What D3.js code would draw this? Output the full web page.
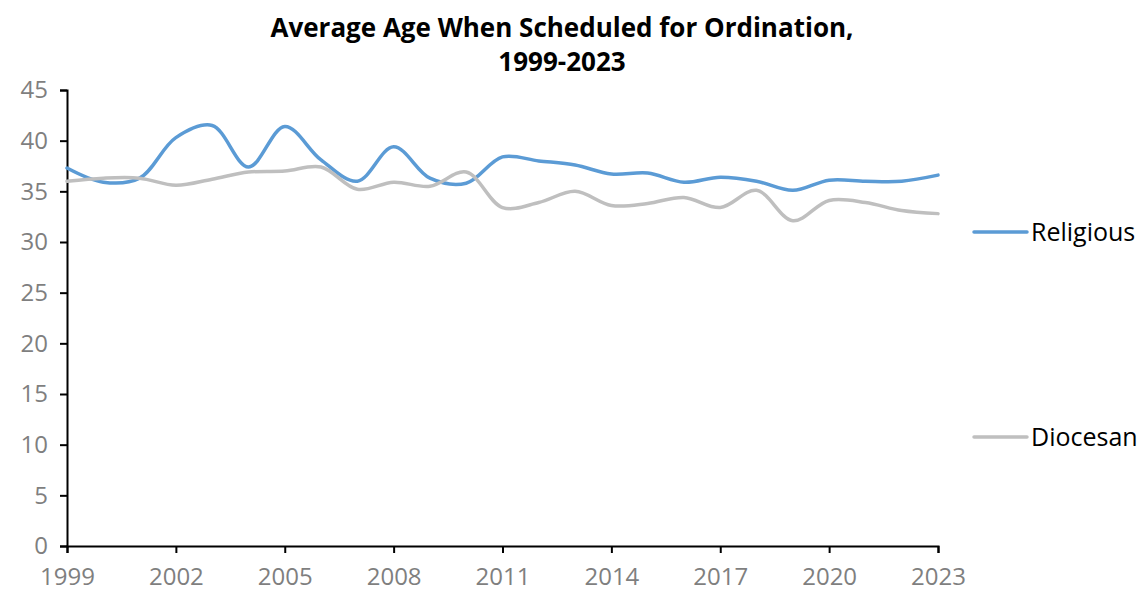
<!DOCTYPE html>
<html>
<head>
<meta charset="utf-8">
<script src="https://cdn.jsdelivr.net/npm/d3@7"></script>
<style>
  body { margin: 0; background: #fff; }
  svg { font-family: "Open Sans", "Noto Sans", sans-serif; }
</style>
</head>
<body>
<svg id="chart"></svg>
<script>
// Data
const years = d3.range(1999, 2024);
const religious = [37.3, 35.9, 36.3, 40.3, 41.5, 37.4, 41.4, 38.1, 36.0, 39.4, 36.3, 35.8, 38.4,
                   38.0, 37.6, 36.7, 36.8, 35.9, 36.4, 36.0, 35.1, 36.1, 36.0, 36.0, 36.6];
const diocesan  = [36.0, 36.3, 36.3, 35.6, 36.2, 36.9, 37.0, 37.4, 35.2, 35.9, 35.5, 36.9, 33.4,
                   33.9, 35.0, 33.6, 33.8, 34.4, 33.4, 35.1, 32.1, 34.1, 33.9, 33.1, 32.8];
const xTicks = [1999, 2002, 2005, 2008, 2011, 2014, 2017, 2020, 2023];
const yTicks = d3.range(0, 50, 5);

const width = 1143;
const height = 599;
const margin = { left: 67, right: 205, top: 90, bottom: 53 };

const svg = d3.select("#chart")
    .attr("width", width)
    .attr("height", height);

const x = d3.scaleLinear()
    .domain([1999, 2023])
    .range([margin.left, width - margin.right]);

const y = d3.scaleLinear()
    .domain([0, 45])
    .range([height - margin.bottom, margin.top]);

// Title
svg.append("text")
    .attr("x", 562).attr("y", 37)
    .attr("text-anchor", "middle")
    .attr("font-size", 26).attr("font-weight", "bold")
    .text("Average Age When Scheduled for Ordination,");
svg.append("text")
    .attr("x", 562).attr("y", 71)
    .attr("text-anchor", "middle")
    .attr("font-size", 26).attr("font-weight", "bold")
    .text("1999-2023");

// Y axis
const yAxis = svg.append("g")
    .attr("transform", `translate(${margin.left},0)`)
    .call(d3.axisLeft(y).tickValues(yTicks).tickSize(7).tickPadding(12));
yAxis.selectAll("text").attr("font-size", 24).attr("fill", "#7f7f7f")
    .attr("font-family", "Open Sans, sans-serif");

// X axis
const xAxis = svg.append("g")
    .attr("transform", `translate(0,${height - margin.bottom})`)
    .call(d3.axisBottom(x).tickValues(xTicks).tickFormat(d3.format("d")).tickSize(7).tickPadding(15));
xAxis.selectAll("text").attr("font-size", 24).attr("fill", "#7f7f7f")
    .attr("font-family", "Open Sans, sans-serif");

svg.selectAll(".domain").attr("stroke", "#000").attr("stroke-width", 2);
svg.selectAll(".tick line").attr("stroke", "#000").attr("stroke-width", 2);

// Lines
const series = [
    { name: "Religious", values: religious, color: "#5b9bd5", ly: 232 },
    { name: "Diocesan", values: diocesan, color: "#bfbfbf", ly: 437 }
];

const line = d3.line()
    .x((d, i) => x(years[i]))
    .y(d => y(d))
    .curve(d3.curveCatmullRom.alpha(0.5));

series.forEach(s => {
    svg.append("path")
        .datum(s.values)
        .attr("fill", "none")
        .attr("stroke", s.color)
        .attr("stroke-width", 3.5)
        .attr("stroke-linecap", "round")
        .attr("d", line);

    // Legend
    svg.append("line")
        .attr("x1", 974).attr("x2", 1027)
        .attr("y1", s.ly).attr("y2", s.ly)
        .attr("stroke", s.color)
        .attr("stroke-width", 3.5)
        .attr("stroke-linecap", "round");
    svg.append("text")
        .attr("x", 1031).attr("y", s.ly + 9)
        .attr("font-size", 25)
        .attr("fill", "#000")
        .text(s.name);
});
</script>
</body>
</html>
